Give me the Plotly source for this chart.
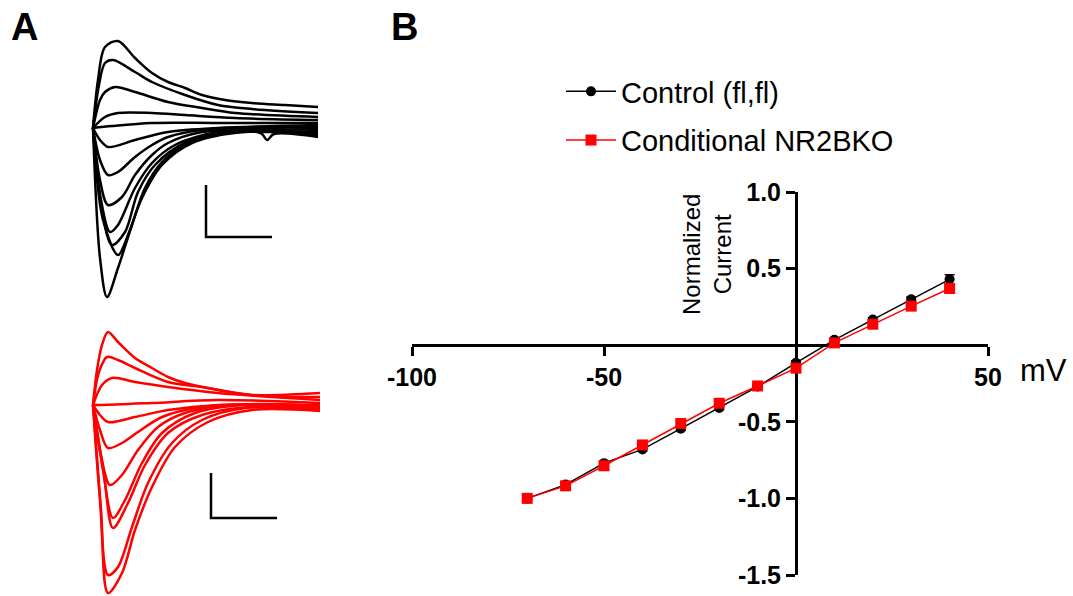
import plotly.graph_objects as go

# ---------------- Panel B data (I-V relation) ----------------
voltage_mv = [-70, -60, -50, -40, -30, -20, -10, 0, 10, 20, 30, 40]
control_current = [-1.0, -0.91, -0.77, -0.68, -0.545, -0.41, -0.27, -0.115, 0.035, 0.167, 0.30, 0.43]
control_sem = [0.01, 0.012, 0.012, 0.012, 0.012, 0.012, 0.012, 0.012, 0.01, 0.012, 0.015, 0.03]
ko_current = [-1.0, -0.918, -0.787, -0.651, -0.511, -0.379, -0.266, -0.15, 0.015, 0.137, 0.255, 0.37]
ko_sem = [0.01, 0.01, 0.01, 0.01, 0.01, 0.01, 0.01, 0.01, 0.01, 0.01, 0.012, 0.015]

x_tickvals = [-100, -50, 50]
x_ticktext = ["-100", "-50", "50"]
y_tickvals = [-1.5, -1.0, -0.5, 0.5, 1.0]
y_ticktext = ["-1.5", "-1.0", "-0.5", "0.5", "1.0"]

# ---------------- Panel A data (example current traces, arbitrary units) ----------------
control_t = [
    [0, 5, 12, 25, 42, 59, 75, 92, 109, 132, 159, 192, 225],
    [0, 6, 12, 20, 42, 59, 92, 125, 159, 225],
    [0, 7, 12, 22, 42, 75, 109, 142, 225],
    [0, 12, 25, 59, 92, 142, 225],
    [0, 19, 59, 125, 225],
    [0, 7, 15, 42, 75, 125, 225],
    [0, 7, 15, 25, 42, 59, 75, 109, 167, 225],
    [0, 7, 15, 29, 42, 59, 75, 109, 167, 225],
    [0, 8, 17, 25, 42, 59, 82, 125, 177, 225],
    [0, 9, 19, 32, 45, 62, 92, 142, 225],
    [0, 10, 25, 35, 49, 69, 99, 152, 225],
    [0, 7, 14, 25, 39, 52, 69, 92, 125, 159, 169, 174, 181, 225],
]
control_i = [
    [0, 48, 81, 87, 70, 55, 46, 40, 33, 28, 25, 23, 21],
    [0, 43, 65, 68, 56, 46, 33, 23, 19, 15],
    [0, 28, 36, 41, 36, 26, 20, 15, 11],
    [0, 11, 15, 15, 13, 10, 8],
    [0, 2, 5, 5, 5],
    [0, -12, -19, -12, -4, 0, 3],
    [0, -32, -47, -44, -29, -17, -9, -2, 0, 1],
    [0, -52, -77, -69, -47, -27, -15, -4, -2, -1],
    [0, -72, -104, -97, -60, -35, -17, -4, -4, -3],
    [0, -82, -117, -104, -64, -37, -15, -4, -5],
    [0, -92, -127, -107, -70, -37, -15, -4, -7],
    [0, -130, -169, -140, -97, -60, -34, -17, -7, -3, -6, -12, -6, -9],
]
ko_t = [
    [0, 4, 9, 15, 25, 42, 59, 75, 92, 125, 159, 227],
    [0, 6, 14, 25, 42, 75, 109, 159, 227],
    [0, 9, 19, 42, 75, 125, 227],
    [0, 9, 59, 125, 227],
    [0, 7, 15, 42, 75, 125, 227],
    [0, 7, 15, 29, 45, 69, 109, 167, 227],
    [0, 8, 17, 29, 45, 65, 92, 142, 227],
    [0, 10, 20, 32, 49, 69, 102, 152, 227],
    [0, 11, 20, 35, 52, 75, 109, 159, 227],
    [0, 7, 15, 25, 39, 55, 79, 109, 152, 227],
    [0, 8, 15, 29, 42, 59, 82, 115, 159, 227],
]
ko_i = [
    [0, 35, 60, 73, 63, 47, 37, 28, 22, 15, 10, 12],
    [0, 33, 48, 45, 37, 23, 18, 10, 8],
    [0, 20, 27, 23, 18, 12, 5],
    [0, 0, 2, 5, 2],
    [0, -10, -17, -12, -5, 0, 0],
    [0, -25, -43, -38, -27, -12, -2, 1, -1],
    [0, -50, -80, -70, -45, -22, -8, 0, -2],
    [0, -65, -113, -95, -58, -28, -8, 0, -3],
    [0, -70, -123, -98, -60, -28, -10, -2, -4],
    [0, -95, -170, -162, -122, -78, -38, -15, -3, -5],
    [0, -105, -188, -168, -125, -82, -42, -17, -5, -6],
]
# scale bars: (t_start, t_end, i_top, i_bottom)
control_scalebar = [113, 179, -57, -109]
ko_scalebar = [118, 184, -68, -113]

W, H = 1073, 596
fig = go.Figure()

# Panel A traces
for t, i in zip(control_t, control_i):
    fig.add_trace(go.Scatter(x=t, y=i, mode="lines", line=dict(color="black", width=2.5, shape="spline", smoothing=0.9),
                             xaxis="x", yaxis="y", showlegend=False, hoverinfo="skip"))
for t, i in zip(ko_t, ko_i):
    fig.add_trace(go.Scatter(x=t, y=i, mode="lines", line=dict(color="#ff0000", width=2.5, shape="spline", smoothing=0.9),
                             xaxis="x3", yaxis="y3", showlegend=False, hoverinfo="skip"))

# scale bars
for (t0, t1, itop, ibot), xr, yr in [(control_scalebar, "x", "y"), (ko_scalebar, "x3", "y3")]:
    fig.add_trace(go.Scatter(x=[t0, t0, t1], y=[itop, ibot, ibot], mode="lines",
                             line=dict(color="black", width=2.5), xaxis=xr, yaxis=yr,
                             showlegend=False, hoverinfo="skip"))

# Panel B traces
fig.add_trace(go.Scatter(
    x=voltage_mv, y=control_current, name="Control (fl,fl)", mode="lines+markers",
    line=dict(color="black", width=1.5), marker=dict(symbol="circle", size=10, color="black"),
    error_y=dict(type="data", array=control_sem, color="black", thickness=1.5, width=5),
    xaxis="x2", yaxis="y2", legendgroup="a"))
fig.add_trace(go.Scatter(
    x=voltage_mv, y=ko_current, name="Conditional NR2BKO", mode="lines+markers",
    line=dict(color="#ff0000", width=1.5), marker=dict(symbol="square", size=11, color="#ff0000"),
    error_y=dict(type="data", array=ko_sem, color="#ff0000", thickness=1.5, width=5),
    xaxis="x2", yaxis="y2", legendgroup="b"))

hidden = dict(visible=False, showgrid=False, zeroline=False)

y0_frac = (H - 575) / H
y1_frac = (H - 192) / H
xaxis_pos = y0_frac + (1.5 / 2.5) * (y1_frac - y0_frac)
x0_frac = 412 / W
x1_frac = 988 / W
yaxis_pos = x0_frac + (100 / 150) * (x1_frac - x0_frac)

axis_font = dict(family="Liberation Sans, Arial, sans-serif", size=25, color="black", weight="bold")

fig.update_layout(
    width=W, height=H, margin=dict(l=0, r=0, t=0, b=0, autoexpand=False),
    paper_bgcolor="white", plot_bgcolor="white",
    xaxis=dict(domain=[85 / W, 325 / W], range=[-8, 232], **hidden),
    yaxis=dict(domain=[(H - 305) / H, (H - 35) / H], range=[-177, 93], **hidden),
    xaxis3=dict(domain=[85 / W, 325 / W], range=[-8, 232], **hidden),
    yaxis3=dict(domain=[0, (H - 325) / H], range=[-191, 80], **hidden),
    xaxis2=dict(domain=[x0_frac, x1_frac], range=[-100, 50], anchor="free", position=xaxis_pos,
                showline=True, linecolor="black", linewidth=3, ticks="outside", ticklen=9,
                tickwidth=3, tickcolor="black", tickvals=x_tickvals, ticktext=x_ticktext,
                tickfont=axis_font, showgrid=False, zeroline=False, layer="below traces",
                automargin=False),
    yaxis2=dict(domain=[y0_frac, y1_frac], range=[-1.5, 1.0], anchor="free", position=yaxis_pos,
                showline=True, linecolor="black", linewidth=3, ticks="outside", ticklen=9,
                tickwidth=3, tickcolor="black", tickvals=y_tickvals, ticktext=y_ticktext,
                tickfont=axis_font, showgrid=False, zeroline=False, layer="below traces",
                automargin=False),
    legend=dict(x=561 / W, y=(H - 66) / H, xanchor="left", yanchor="top", itemwidth=50,
                font=dict(family="Liberation Sans, Arial, sans-serif", size=29, color="black"),
                bgcolor="rgba(0,0,0,0)", traceorder="grouped", tracegroupgap=8),
    showlegend=True,
)

annots = [
    dict(text="<b>A</b>", x=24 / W, y=(H - 27) / H, font=dict(size=38)),
    dict(text="<b>B</b>", x=404 / W, y=(H - 27) / H, font=dict(size=38)),
    dict(text="mV", x=1043 / W, y=(H - 370) / H, font=dict(size=31)),
    dict(text="Normalized<br>Current", x=707 / W, y=(H - 255) / H, font=dict(size=24), textangle=-90),
]
for a in annots:
    a["font"].update(family="Liberation Sans, Arial, sans-serif", color="black")
    fig.add_annotation(xref="paper", yref="paper", showarrow=False, xanchor="center", yanchor="middle", **a)

fig.write_html("out.html", config={"displayModeBar": False},
               post_script="document.body.style.margin='0px';document.body.style.overflow='hidden';")
